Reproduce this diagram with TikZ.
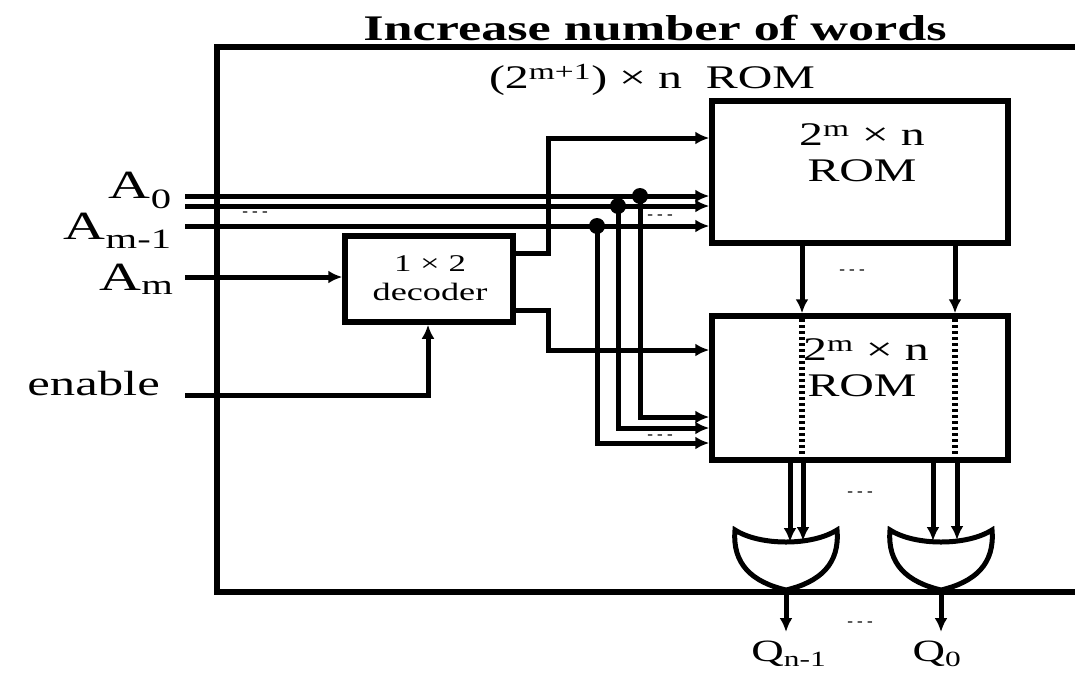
\documentclass[tikz,border=0pt]{standalone}
\usepackage{fontspec}
\setmainfont{Liberation Serif}
\usepackage{graphicx}
\usetikzlibrary{arrows.meta,calc}
\newcommand{\sx}[1]{\scalebox{1.45}[1]{#1}}
\begin{document}
\begin{tikzpicture}[x=1pt,y=-1pt,
  wire/.style={line width=5pt},
  arr/.style={wire,-{Latex[length=14pt,width=13pt]}},
  box/.style={draw,line width=5.5pt,inner sep=0pt,fill=white},
  dots/.style={line width=5.5pt,dash pattern=on 3pt off 3pt},
  lbl/.style={inner sep=0pt},
  ellip/.style={inner sep=0pt,font=\fontsize{17}{17}\selectfont},
  jdot/.style={circle,fill=black,inner sep=0pt,minimum size=16pt}
]
\useasboundingbox (0,0) rectangle (1075,675);
% outer frame
\draw[line width=5.5pt] (1090,47) -- (217,47) -- (217,592) -- (1090,592);
% title
\node[lbl,font=\fontsize{36}{40}\selectfont\bfseries] (title) at (655,28) {\sx{Increase number of words}};
\node[lbl,font=\fontsize{33}{35}\selectfont] (sub) at (652,80) {\sx{(2\textsuperscript{m+1}) × n\ \ ROM}};
% boxes
\node[box,minimum width=296pt,minimum height=142pt] (romA) at (860,172) {};
\node[box,minimum width=296pt,minimum height=144pt] (romB) at (860,388) {};
\node[box,minimum width=168pt,minimum height=86pt] (dec) at (429,279) {};
\node[lbl,font=\fontsize{33}{35}\selectfont] (tA1) at (862,135) {\sx{2\textsuperscript{m} × n}};
\node[lbl,font=\fontsize{33}{35}\selectfont] (tA2) at (862,171) {\sx{ROM}};
\node[lbl,font=\fontsize{33}{35}\selectfont] (tB1) at (866,350) {\sx{2\textsuperscript{m} × n}};
\node[lbl,font=\fontsize{33}{35}\selectfont] (tB2) at (862,386) {\sx{ROM}};
\node[lbl,font=\fontsize{24}{26}\selectfont] (d1) at (430,264) {\sx{1 × 2}};
\node[lbl,font=\fontsize{25}{27}\selectfont] (d2) at (430,292) {\sx{decoder}};
% input labels
\node[lbl,anchor=base east,font=\fontsize{40}{42}\selectfont] (lA0) at (172,198) {\sx{A\textsubscript{0}}};
\node[lbl,anchor=base east,font=\fontsize{40}{42}\selectfont] (lAm1) at (172,239) {\sx{A\textsubscript{m-1}}};
\node[lbl,anchor=base east,font=\fontsize{40}{42}\selectfont] (lAm) at (174,290) {\sx{A\textsubscript{m}}};
\node[lbl,anchor=base east,font=\fontsize{35}{37}\selectfont] (len) at (160,395) {\sx{enable}};
% coordinates
\coordinate (a0s) at (185,196);
\coordinate (a1s) at (185,206);
\coordinate (a2s) at (185,226);
\coordinate (ams) at (185,277);
\coordinate (ens) at (185,395);
% address lines to top ROM
\draw[arr] (a0s) -- (a0s -| romA.west);
\draw[arr] (a1s) -- (a1s -| romA.west);
\draw[arr] (a2s) -- (a2s -| romA.west);
\draw[arr] (ams) -- (ams -| dec.west);
\draw[arr] (ens) -- (428,395) -- (dec.south -| 428,0);
% decoder outputs
\draw[arr] (dec.east |- 0,253) -- (548,253) -- (548,138) -- (romA.west |- 0,138);
\draw[arr] (dec.east |- 0,310) -- (548,310) -- (548,350) -- (romB.west |- 0,350);
% branches to bottom ROM
\coordinate (b0) at (640,196);
\coordinate (b1) at (618,206);
\coordinate (b2) at (597,226);
\node[jdot] (j0) at (b0) {};
\node[jdot] (j1) at (b1) {};
\node[jdot] (j2) at (b2) {};
\draw[arr] (j0.center) -- (640,417) -- (romB.west |- 0,417);
\draw[arr] (j1.center) -- (618,428) -- (romB.west |- 0,428);
\draw[arr] (j2.center) -- (597,443) -- (romB.west |- 0,443);
% ellipses
\node[ellip] at (255,214) {- - -};
\node[ellip] at (660,217) {- - -};
\node[ellip] at (660,437) {- - -};
\node[ellip] at (852,272) {- - -};
\node[ellip] at (860,494) {- - -};
\node[ellip] at (860,624) {- - -};
% top ROM outputs
\draw[arr] (romA.south -| 802,0) -- (romB.north -| 802,0);
\draw[arr] (romA.south -| 955,0) -- (romB.north -| 955,0);
\draw[dots] (802,319) -- (802,458);
\draw[dots] (955,319) -- (955,458);
% OR gates
\coordinate (gL) at (786,530);
\coordinate (gR) at (941,530);
\foreach \g/\n in {gL/orL,gR/orR}{
  \draw[line width=5pt,fill=white] ($(\g)+(-51,0)$) .. controls ($(\g)+(-26,16)$) and ($(\g)+(26,16)$) .. ($(\g)+(51,0)$)
    .. controls ($(\g)+(54,34)$) and ($(\g)+(34,52)$) .. ($(\g)+(0,60)$)
    .. controls ($(\g)+(-34,52)$) and ($(\g)+(-54,34)$) .. ($(\g)+(-51,0)$) -- cycle;
  \coordinate (\n) at ($(\g)+(0,60)$);
}
\draw[arr] (790,460) -- (790,542);
\draw[arr] (803,460) -- (803,541);
\draw[arr] (933,460) -- (933,541);
\draw[arr] (957,460) -- (957,540);
\draw[arr] (orL) -- (786,632);
\draw[arr] (orR) -- (941,632);
\node[lbl,anchor=base,font=\fontsize{31}{33}\selectfont] (q1) at (789,661) {\sx{Q\textsubscript{n-1}}};
\node[lbl,anchor=base,font=\fontsize{31}{33}\selectfont] (q0) at (937,661) {\sx{Q\textsubscript{0}}};
\end{tikzpicture}
\end{document}
